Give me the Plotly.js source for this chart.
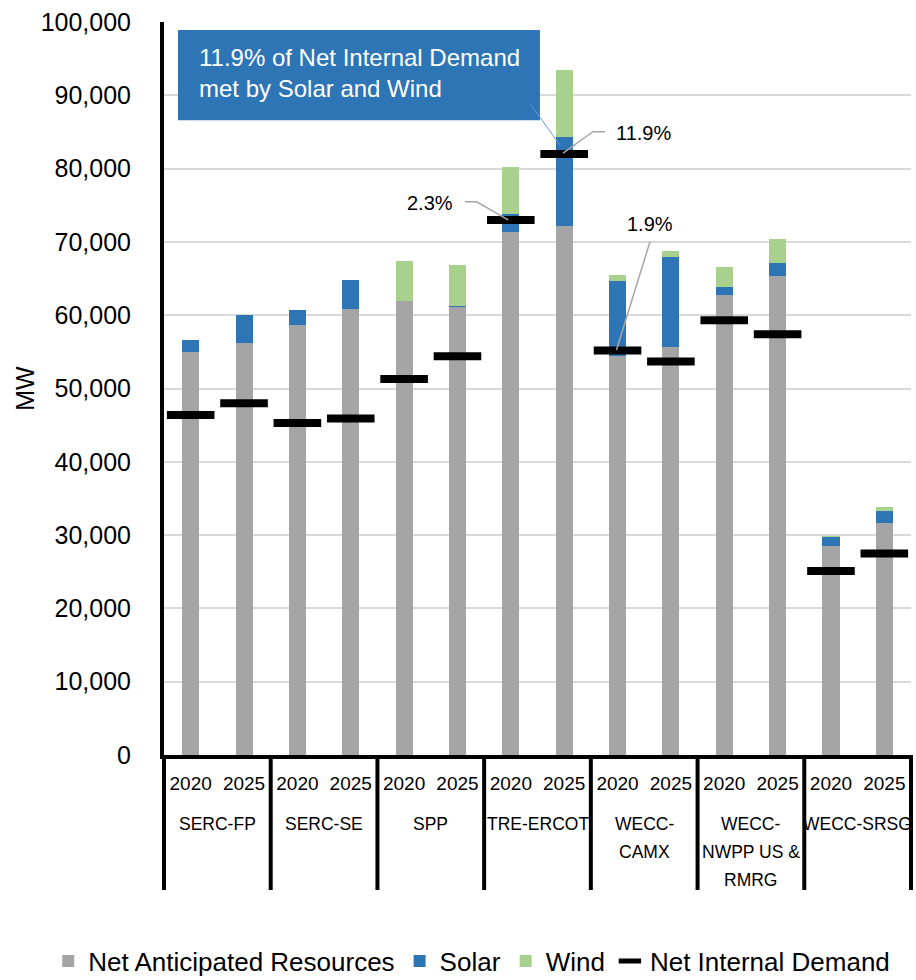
<!DOCTYPE html>
<html>
<head>
<meta charset="utf-8">
<script src="https://cdn.plot.ly/plotly-3.0.1.min.js"></script>
<style>html,body{margin:0;padding:0;background:#fff;}#chart{width:916px;height:980px;}</style>
</head>
<body>
<div id="chart"></div>
<script>
// ---- data ----
const groups = ['SERC-FP', 'SERC-SE', 'SPP', 'TRE-ERCOT', 'WECC-<br>CAMX', 'WECC-<br>NWPP US &<br>RMRG', 'WECC-SRSG'];
const years = ['2020', '2025'];
const resources = [55000, 56200, 58700, 60800, 61900, 61100, 71300, 72200, 54500, 55700, 62700, 65400, 28500, 31700];
const solar     = [1600, 3800, 2000, 4000, 100, 200, 2500, 12100, 10200, 12200, 1100, 1700, 1200, 1600];
const wind      = [0, 0, 0, 0, 5400, 5500, 6400, 9200, 800, 900, 2800, 3300, 200, 500];
const demand    = [46400, 48000, 45300, 45900, 51300, 54400, 73000, 82000, 55200, 53700, 59300, 57400, 25100, 27500];
const callouts  = ['2.3%', '11.9%', '1.9%'];
const boxText   = '11.9% of Net Internal Demand<br>met by Solar and Wind';
const yTitle    = 'MW';

// ---- build ----
const FONT = 'Liberation Sans, Arial, sans-serif';
const xs = [], ticktext = [];
groups.forEach((g, gi) => years.forEach((y, yi) => { xs.push(gi * years.length + yi); ticktext.push(y); }));
const nCat = xs.length;

const barW = 0.32;
const traces = [
  {type: 'bar', name: 'Net Anticipated Resources', x: xs, y: resources, width: barW, marker: {color: '#A5A5A5'}},
  {type: 'bar', name: 'Solar', x: xs, y: solar, width: barW, marker: {color: '#2E75B6'}},
  {type: 'bar', name: 'Wind', x: xs, y: wind, width: barW, marker: {color: '#A9D18E'}},
  {type: 'scatter', mode: 'markers', name: 'Net Internal Demand', x: xs, y: demand,
   marker: {symbol: 'line-ew', size: 34, color: '#000', line: {width: 8, color: '#000'}}}
];

const shapes = [];
const annotations = [];
// dividers below the axis (paper coords so they are not clipped)
const divBottom = -(890 - 755) / 733;
for (let g = 0; g <= groups.length; g++) {
  const px = (g * years.length) / nCat;
  shapes.push({type: 'line', xref: 'paper', yref: 'paper', x0: px, x1: px, y0: 0, y1: divBottom,
               line: {color: '#000', width: 4}});
}
// group labels, line by line
groups.forEach((g, gi) => {
  g.split('<br>').forEach((line, li) => {
    annotations.push({xref: 'x', yref: 'paper', x: gi * years.length + 0.5,
      y: -((824 + li * 28) - 755) / 733, text: line, showarrow: false,
      xanchor: 'center', yanchor: 'middle', font: {family: FONT, size: 17.5, color: '#000'}});
  });
});

// callout box
shapes.push({type: 'rect', xref: 'x', yref: 'y', x0: -0.238, x1: 6.546, y0: 86600, y1: 98900,
             fillcolor: '#2E75B6', line: {width: 0}, layer: 'above'});
shapes.push({type: 'line', xref: 'x', yref: 'y', x0: 6.359, y0: 88900, x1: 6.921, y1: 83200,
             line: {color: '#5B9BD5', width: 1}, layer: 'above'});
annotations.push({xref: 'x', yref: 'y', x: 0.12, y: 93100, text: boxText, showarrow: false,
  xanchor: 'left', yanchor: 'middle', align: 'left', font: {family: FONT, size: 24, color: '#fff'}});

// leader lines
const grey = '#A6A6A6';
shapes.push({type: 'path', xref: 'x', yref: 'y', path: 'M5.141,75480 L5.36,75480 L5.95,73000',
             line: {color: grey, width: 1.5}, layer: 'above'});
shapes.push({type: 'path', xref: 'x', yref: 'y', path: 'M7.765,85030 L7.54,85030 L6.98,82100',
             line: {color: grey, width: 1.5}, layer: 'above'});
shapes.push({type: 'line', xref: 'x', yref: 'y', x0: 8.608, y0: 70030, x1: 7.98, y1: 55250,
             line: {color: grey, width: 1.5}, layer: 'above'});
annotations.push({xref: 'x', yref: 'y', x: 4.953, y: 75300, text: callouts[0], showarrow: false,
  xanchor: 'right', yanchor: 'middle', font: {family: FONT, size: 20, color: '#000'}});
annotations.push({xref: 'x', yref: 'y', x: 7.93, y: 84900, text: callouts[1], showarrow: false,
  xanchor: 'left', yanchor: 'middle', font: {family: FONT, size: 20, color: '#000'}});
annotations.push({xref: 'x', yref: 'y', x: 8.6, y: 72500, text: callouts[2], showarrow: false,
  xanchor: 'center', yanchor: 'middle', font: {family: FONT, size: 20, color: '#000'}});

const layout = {
  width: 916, height: 980,
  margin: {l: 164, r: 5, t: 22, b: 225, pad: 0, autoexpand: false},
  paper_bgcolor: '#fff', plot_bgcolor: '#fff',
  barmode: 'stack',
  showlegend: true,
  hovermode: false,
  font: {family: FONT, color: '#000'},
  xaxis: {
    range: [-0.5, nCat - 0.5], tickmode: 'array', tickvals: xs, ticktext: ticktext,
    tickfont: {family: FONT, size: 19, color: '#000'}, ticks: '', showgrid: false, zeroline: false,
    showline: true, linecolor: '#000', linewidth: 4, ticklabelstandoff: 8, fixedrange: true, automargin: false
  },
  yaxis: {
    range: [0, 100000], dtick: 10000, tickformat: ',', showgrid: true, gridcolor: '#D9D9D9', gridwidth: 2,
    zeroline: false, showline: true, linecolor: '#000', linewidth: 4, ticks: '',
    tickfont: {family: FONT, size: 25, color: '#000'}, ticklabelstandoff: 24, automargin: false,
    title: {text: yTitle, font: {family: FONT, size: 25, color: '#000'}, standoff: 0}, fixedrange: true
  },
  legend: {
    orientation: 'h', xref: 'paper', yref: 'paper', x: -0.155, xanchor: 'left',
    y: -(961 - 755) / 733, yanchor: 'middle', font: {family: FONT, size: 26, color: '#000'},
    traceorder: 'normal', bgcolor: 'rgba(0,0,0,0)', itemwidth: 30
  },
  shapes: shapes,
  annotations: annotations
};

Plotly.newPlot('chart', traces, layout, {displayModeBar: false, staticPlot: true});
</script>
</body>
</html>
